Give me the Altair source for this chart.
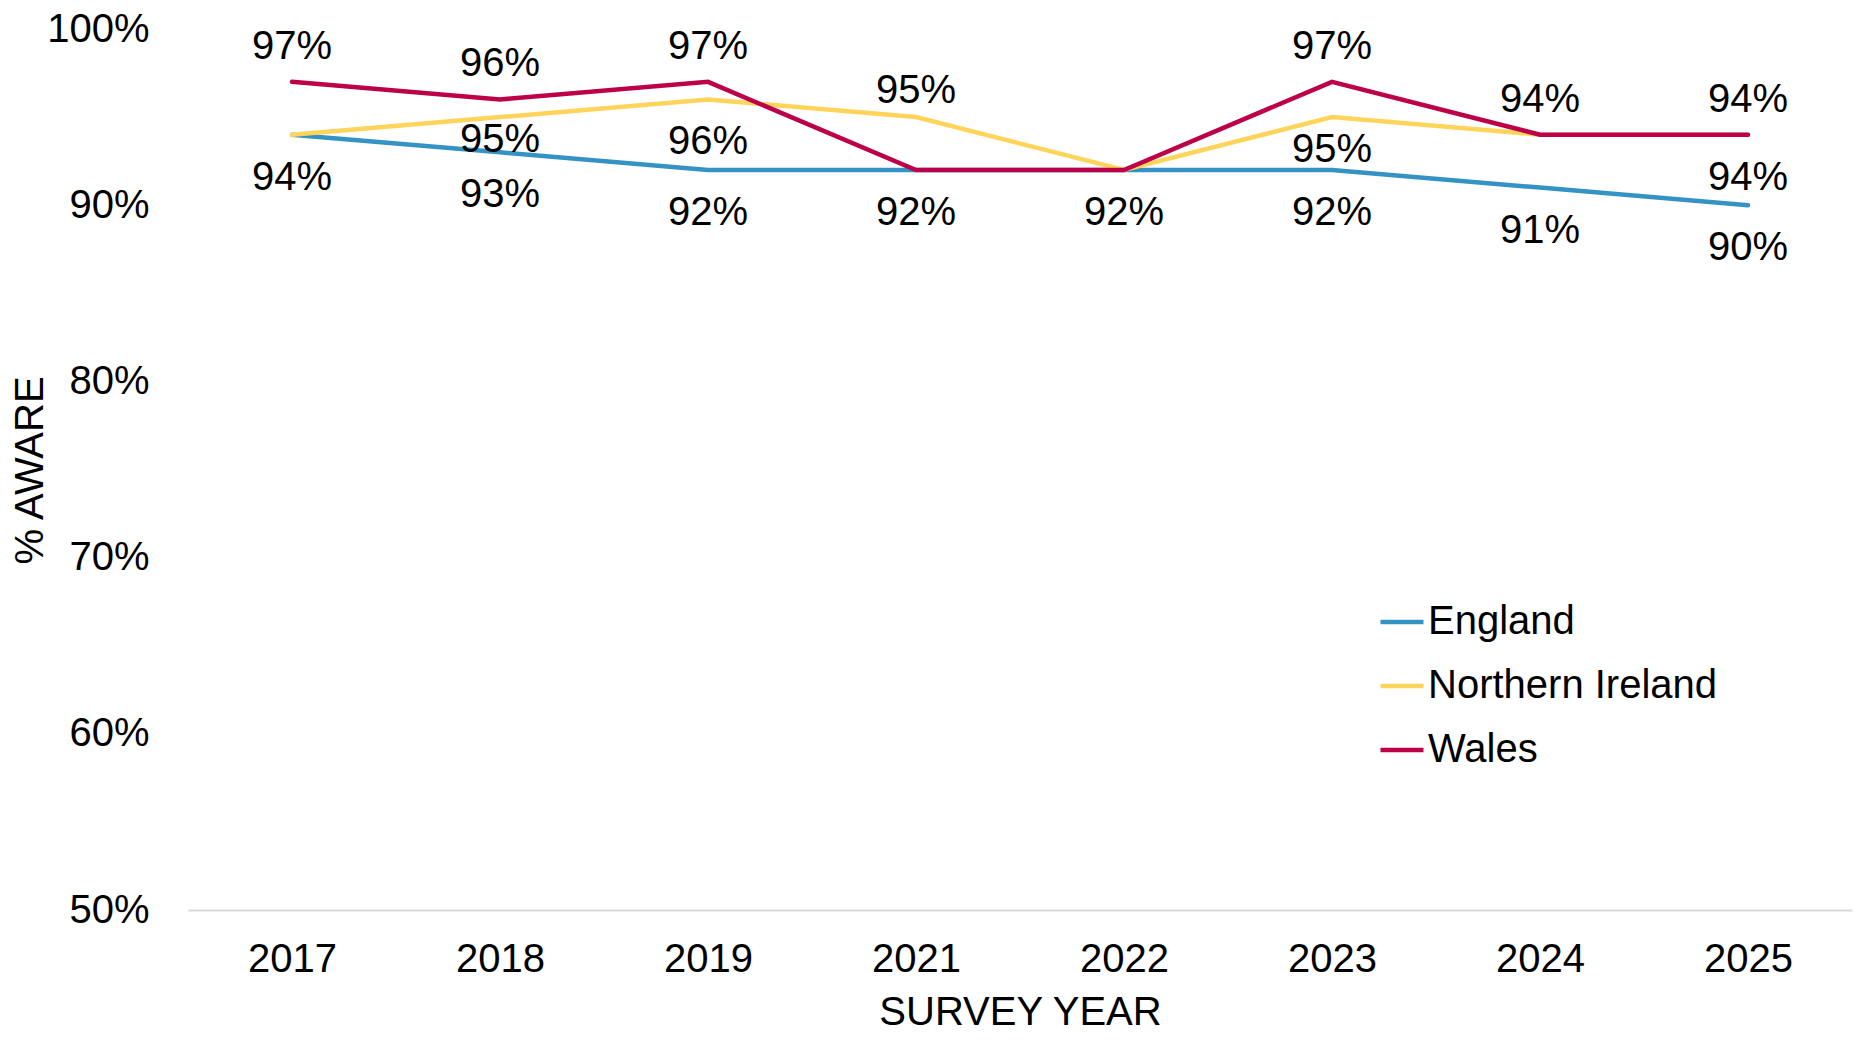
import altair as alt
import pandas as pd

# Survey results: share of respondents aware, by nation and survey year
years = ["2017", "2018", "2019", "2021", "2022", "2023", "2024", "2025"]
england = [94, 93, 92, 92, 92, 92, 91, 90]
northern_ireland = [94, 95, 96, 95, 92, 95, 94, 94]
wales = [97, 96, 97, 92, 92, 97, 94, 94]

regions = ["England", "Northern Ireland", "Wales"]
region_colors = ["#3592C4", "#FFD45A", "#BC0049"]

# Where each value label sits relative to its point
england_label_place = ["below"] * 8
ni_label_place = ["below", "close_below", "below", "close_above",
                  "below", "mid_below", "above", "below"]
wales_label_place = ["above", "above", "above", "below",
                     "below", "above", "above", "above"]
label_dy = {"above": -35, "close_above": -26, "close_below": 23,
            "mid_below": 33, "below": 43}

rows = []
for region, values, places in [
    ("England", england, england_label_place),
    ("Northern Ireland", northern_ireland, ni_label_place),
    ("Wales", wales, wales_label_place),
]:
    for yr, v, p in zip(years, values, places):
        rows.append({"year": yr, "region": region, "value": v, "place": p})
df = pd.DataFrame(rows)

FONT = "Liberation Sans"

x = alt.X(
    "year:O",
    sort=years,
    scale=alt.Scale(type="point", padding=0.5),
    axis=alt.Axis(
        title="SURVEY YEAR", labelAngle=0, ticks=False, grid=False,
        domainColor="#d9d9d9", domainWidth=2,
        labelPadding=29, titlePadding=13,
        labelFont=FONT, titleFont=FONT, labelFontSize=40, titleFontSize=40,
        labelColor="black", titleColor="black", titleFontWeight="normal",
    ),
)
y = alt.Y(
    "value:Q",
    scale=alt.Scale(domain=[50, 100], nice=False, zero=False),
    axis=alt.Axis(
        values=[50, 60, 70, 80, 90, 100], labelExpr="datum.value + '%'",
        title="% AWARE", domain=False, ticks=False, grid=False,
        labelPadding=39, labelFont=FONT, titleFont=FONT,
        labelFontSize=40, titleFontSize=40, labelColor="black",
        titleColor="black", titleFontWeight="normal",
        titleX=-158, titleY=441, titleAngle=270,
        titleAlign="center", titleBaseline="middle",
    ),
)
color = alt.Color(
    "region:N",
    scale=alt.Scale(domain=regions, range=region_colors),
    legend=alt.Legend(
        title=None, orient="none", legendX=1190, legendY=569,
        direction="vertical", symbolType="stroke", symbolSize=1849,
        symbolStrokeWidth=4.5, labelFont=FONT, labelFontSize=40,
        labelColor="black", rowPadding=20, labelOffset=2, padding=0,
        labelLimit=0,
    ),
)

base = alt.Chart(df)

# one line layer per nation so Wales is drawn on top
line_layers = [
    base.transform_filter(alt.datum.region == r)
    .mark_line(strokeWidth=4.5, strokeCap="round")
    .encode(x=x, y=y, color=color)
    for r in regions
]

# value labels; labels that land on the same spot with the same text are drawn once
text_layers = [
    base.transform_filter(alt.datum.place == place)
    .transform_aggregate(n="count()", groupby=["year", "value", "place"])
    .transform_calculate(label="datum.value + '%'")
    .mark_text(font=FONT, fontSize=40, color="black", align="center",
               baseline="middle", dy=dy)
    .encode(x=x, y=y, text="label:N")
    for place, dy in label_dy.items()
]

chart = (
    alt.layer(*line_layers, *text_layers)
    .properties(
        width=1664, height=881,
        autosize=alt.AutoSizeParams(type="none"),
        padding={"left": 188, "top": 29, "right": 23, "bottom": 149},
        background="white",
    )
    .configure_view(stroke=None)
)

chart.save("out.html", embed_options={"renderer": "svg", "actions": False})
